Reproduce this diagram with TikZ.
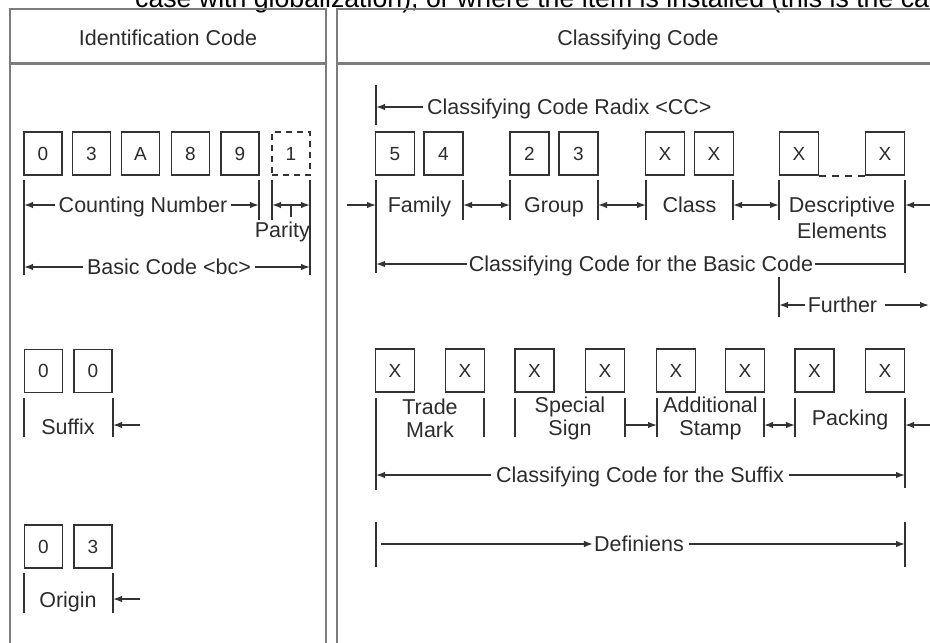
\documentclass[tikz,border=0pt]{standalone}
\usepackage{fontspec}
\setmainfont{Liberation Sans}
\usetikzlibrary{arrows.meta}
\definecolor{frm}{HTML}{7C7C7C}
\definecolor{ink}{HTML}{333333}
\definecolor{txt}{HTML}{2C2C2C}
\begin{document}
\begin{tikzpicture}[x=1pt,y=-1pt,
  frame/.style={draw=frm,line width=2.6pt},
  sepline/.style={draw=frm,line width=3pt},
  tk/.style={draw=ink,line width=1.7pt},
  dim/.style={draw=ink,line width=1.4pt},
  ar/.style={dim,-{Latex[length=9pt,width=6.5pt]}},
  dar/.style={dim,{Latex[length=9pt,width=6.5pt]}-{Latex[length=9pt,width=6.5pt]}},
  cbox/.style={draw=ink,line width=1.7pt,minimum width=38pt,minimum height=43pt,inner sep=0pt,text=txt,font=\fontsize{19}{21}\selectfont,text height=13.6pt,text depth=0pt},
  lab/.style={text=txt,font=\fontsize{21.5}{24}\selectfont,inner xsep=4pt,inner ysep=1pt,text height=15.5pt,text depth=0pt},
  mlab/.style={text=txt,align=center,inner sep=1pt,font=\fontsize{21.5}{24}\selectfont}
]
\useasboundingbox (0,0) rectangle (930,643);
\fill[white] (0,0) rectangle (930,643);

% cut-off running text above the figure
\node[anchor=base west,inner sep=0pt,font=\fontsize{26.7}{30}\selectfont] (toptext) at (135,7)
  {case with globalization), or where the item is installed (this is the case};

% frames
\draw[frame] (10,700) -- (10,9) -- (326,9) -- (326,700);
\draw[frame] (337,700) -- (337,9) -- (945,9);
\draw[sepline] (10,63) -- (326,63);
\draw[sepline] (337,63) -- (945,63);
\node[lab] (hid) at (168,38) {Identification Code};
\node[lab] (hcc) at (638,38) {Classifying Code};

% ---------- Identification code ----------
\foreach \nm/\x/\t in {ia/43/0, ib/91.5/3, ic/140.5/A, id/190.5/8, ie/240/9}
  \node[cbox] (\nm) at (\x,153.5) {\t};
\node[cbox,dashed,dash pattern=on 6pt off 5pt] (ip) at (291,153.5) {1};

\coordinate (cA) at (24,205);
\coordinate (cB) at (259,205);
\coordinate (cC) at (272,205);
\coordinate (cD) at (310,205);
\coordinate (pm) at (291,205);
\draw[tk] (cA) ++(0,-25) -- ++(0,95);
\draw[tk,line width=2.4pt] (cB) ++(0,-25) -- ++(0,40);
\draw[tk] (cC) ++(0,-25) -- ++(0,40);
\draw[tk] (cD) ++(0,-25) -- ++(0,95);
\node[lab] (cnt) at (143,205) {Counting Number};
\draw[ar] (cnt.west) -- (cA);
\draw[ar] (cnt.east) -- (cB);
\draw[dar] (cC) -- (cD);
\draw[dim] (pm) -- ++(0,12);
\node[lab,anchor=east,inner xsep=0pt] (par) at (310,230) {Parity};

\coordinate (bA) at (24,267);
\coordinate (bD) at (310,267);
\node[lab] (bcx) at (169,267) {Basic Code <bc>};
\draw[ar] (bcx.west) -- (bA);
\draw[ar] (bcx.east) -- (bD);

% suffix
\node[cbox] (sa) at (43.5,371) {0};
\node[cbox] (sb) at (93,371) {0};
\coordinate (sL) at (24,425);
\coordinate (sR) at (113,425);
\coordinate (sO) at (140,425);
\draw[tk] (sL) ++(0,-27) -- ++(0,39);
\draw[tk] (sR) ++(0,-27) -- ++(0,39);
\node[lab] (sfx) at (68,427) {Suffix};
\draw[ar] (sO) -- (sR);

% origin
\node[cbox] (oa) at (43.5,546.5) {0};
\node[cbox] (ob) at (93,546.5) {3};
\coordinate (oL) at (24,599);
\coordinate (oR) at (113,599);
\coordinate (oO) at (140,599);
\draw[tk] (oL) ++(0,-26) -- ++(0,40);
\draw[tk] (oR) ++(0,-26) -- ++(0,40);
\node[lab] (org) at (68,600) {Origin};
\draw[ar] (oO) -- (oR);

% ---------- Classifying code ----------
\coordinate (rT) at (376,107);
\draw[tk] (rT) ++(0,-22) -- ++(0,40);
\node[lab,anchor=west] (rdx) at (423,107) {Classifying Code Radix <CC>};
\draw[ar] (rdx.west) -- (rT);

\foreach \nm/\x/\t in {ka/395/5, kb/443.5/4, kc/529.5/2, kd/578.5/3, ke/665/X, kf/714/X, kg/799/X, kh/885/X}
  \node[cbox,minimum width=39pt] (\nm) at (\x,153.5) {\t};
\draw[ink,line width=1.7pt,dash pattern=on 7pt off 6pt] (kg.south east) -- (kh.south west);

\foreach \nm/\x in {f1/376, f2/463, g1/510, g2/598, k1/646, k2/733, e1/779, e2/905}
  \coordinate (\nm) at (\x,205);
\draw[tk] (f1) ++(0,-25) -- ++(0,93);
\draw[tk] (e2) ++(0,-25) -- ++(0,93);
\foreach \nm in {f2, g1, g2, k1, k2, e1}
  \draw[tk] (\nm) ++(0,-25) -- ++(0,40);
\coordinate (fin) at (347,205);
\coordinate (ein) at (935,205);
\draw[ar] (fin) -- (f1);
\draw[dar] (f2) -- (g1);
\draw[dar] (g2) -- (k1);
\draw[dar] (k2) -- (e1);
\draw[ar] (ein) -- (e2);
\node[lab] (lfa) at (419.5,205) {Family};
\node[lab] (lgr) at (554,205) {Group};
\node[lab] (lcl) at (689.5,205) {Class};
\node[mlab,font=\fontsize{21.5}{26}\selectfont] (lde) at (842,218) {Descriptive\\Elements};

\coordinate (bb1) at (376,264);
\coordinate (bb2) at (905,264);
\node[lab,inner xsep=2pt] (bbc) at (641,264) {Classifying Code for the Basic Code};
\draw[ar] (bbc.west) -- (bb1);
\draw[dim] (bbc.east) -- (bb2);

\coordinate (fu) at (779,305);
\coordinate (fuo) at (929,305);
\draw[tk] (fu) ++(0,-28) -- ++(0,40);
\node[lab,inner xsep=3pt] (fur) at (842.5,305) {Further};
\draw[ar] (fur.west) -- (fu);
\draw[ar] ([xshift=5pt]fur.east) -- (fuo);

% suffix classification
\foreach \nm/\x in {ta/395, tb/465, tc/534.5, td/605, te/676, tf/745, tg/814.5, th/885}
  \node[cbox,minimum width=39pt] (\nm) at (\x,370.5) {X};
\foreach \nm/\x in {s1/376, s2/484, s3/515, s4/625, s5/657, s6/764, s7/795, s8/905}
  \coordinate (\nm) at (\x,425);
\draw[tk] (s1) ++(0,-27) -- ++(0,92);
\draw[tk] (s8) ++(0,-27) -- ++(0,90);
\foreach \nm in {s2, s3, s4, s5, s6, s7}
  \draw[tk] (\nm) ++(0,-27) -- ++(0,39);
\coordinate (sin) at (935,425);
\draw[ar] (s4) -- (s5);
\draw[dar] (s6) -- (s7);
\draw[ar] (sin) -- (s8);
\node[mlab,font=\fontsize{21.5}{23}\selectfont] (ltm) at (430,418.5) {Trade\\Mark};
\node[mlab,font=\fontsize{21.5}{23}\selectfont] (lss) at (570,418.5) {Special\\Sign};
\node[mlab,font=\fontsize{21.5}{23}\selectfont] (las) at (710.5,418.5) {Additional\\Stamp};
\node[lab] (lpk) at (850,418) {Packing};

\coordinate (sc1) at (376,475);
\coordinate (sc2) at (905,475);
\node[lab,inner xsep=5pt] (scs) at (640,475) {Classifying Code for the Suffix};
\draw[ar] (scs.west) -- (sc1);
\draw[ar] (scs.east) -- (sc2);

\coordinate (dl) at (376,544);
\coordinate (dr) at (905,544);
\coordinate (dls) at (381,544);
\draw[tk] (dl) ++(0,-22) -- ++(0,45);
\draw[tk] (dr) ++(0,-22) -- ++(0,45);
\node[lab,inner xsep=1pt] (dfn) at (639,544) {Definiens};
\draw[ar] (dls) -- (dfn.west);
\draw[ar] ([xshift=4pt]dfn.east) -- (dr);
\end{tikzpicture}
\end{document}
